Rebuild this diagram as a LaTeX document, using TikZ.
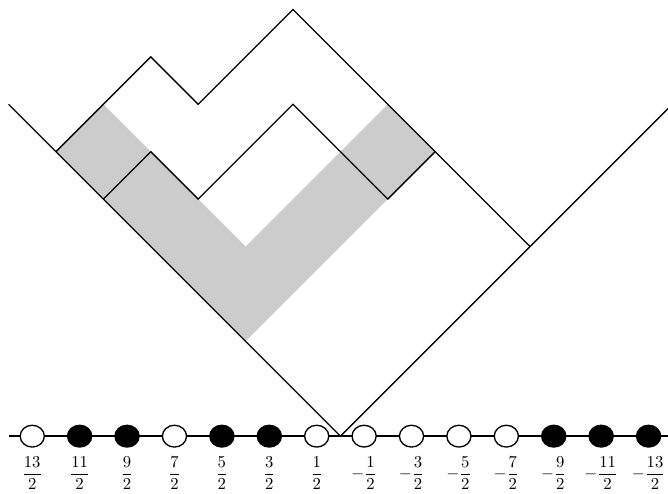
\documentclass[tikz,border=0pt]{standalone}
\usepackage{amsmath}
\usetikzlibrary{shapes.geometric}

\tikzset{
  bead/.style={ellipse, draw, thick, minimum width=0.51cm, minimum height=0.46cm, inner sep=0pt},
  rim/.style={black!20},
}

\begin{document}
\begin{tikzpicture}
        \useasboundingbox (-7.18,-1.2) rectangle (6.91,9.2);
        \coordinate (o) at (0,0);

        % the strip
        \fill[rim] (-6,6) -- (-5,7) -- (-2,4) -- (1,7) -- (2,6) -- (-2,2) -- cycle;

        % the two walls
        \coordinate (lw) at (-7,7);
        \coordinate (rw) at (7,7);
        \draw[thick] (lw) -- (o) -- (rw);

        % outer and inner profiles
        \draw[thick] (-6,6) -- (-4,8) -- (-3,7) -- (-1,9) -- (4,4);
        \draw[thick] (-5,5) -- (-4,6) -- (-3,5) -- (-1,7) -- (1,5) -- (2,6);

        % Maya diagram
        \coordinate (al) at (-7,0);
        \coordinate (ar) at (7.2,0);
        \draw[thick] (al) -- (ar);
        \foreach \n/\c [count=\k from 0] in {13/white,11/black,9/black,7/white,5/black,3/black,1/white,
                -1/white,-3/white,-5/white,-7/white,-9/black,-11/black,-13/black} {
            \node[bead, fill=\c] (s\k) at ({-6.5+\k},0) {};
            \node (t\k) at ({-6.5+\k},-0.78)
                {$\ifnum\n<0 -\dfrac{\the\numexpr-\n\relax}{2}\else\dfrac{\n}{2}\fi$};
        }
    \end{tikzpicture}
\end{document}
